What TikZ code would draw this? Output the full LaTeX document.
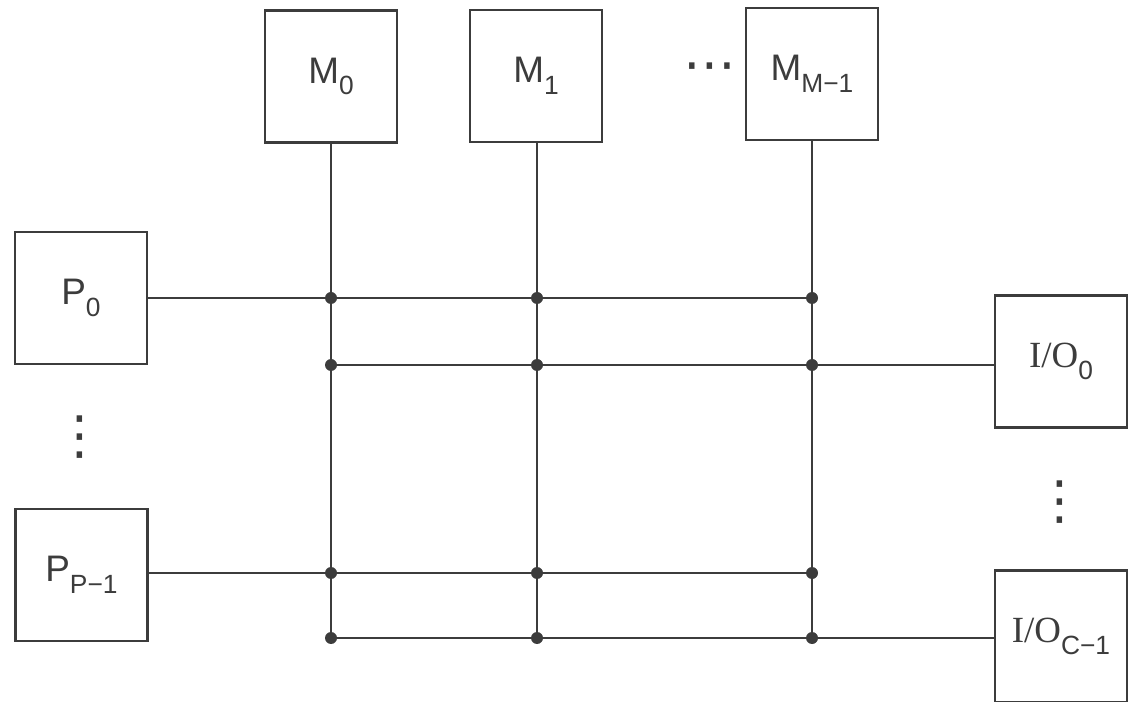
\documentclass[tikz,border=0pt]{standalone}
\usepackage{fontspec}
\setmainfont{Liberation Sans}
\newfontfamily\iofont{Liberation Serif}
\newfontfamily\dotfont{DejaVu Sans}
\usetikzlibrary{positioning}
\definecolor{ink}{RGB}{60,60,60}
\newcommand{\lowidx}[1]{\raisebox{-0.6ex}{\fontsize{15}{17}\selectfont #1}}
\tikzset{
  unit/.style={rectangle, draw=ink, line width=1.5pt, fill=white,
               minimum width=2.64cm, minimum height=2.64cm, align=center,
               font=\fontsize{21}{24}\selectfont, text=ink},
  bus/.style={draw=ink, line width=1.1pt},
  tap/.style={circle, fill=ink, inner sep=0pt, minimum size=0.24cm},
  gap/.style={font=\dotfont\fontsize{30}{32}\selectfont, text=ink, inner sep=0pt},
}
\begin{document}
\begin{tikzpicture}
\clip (0,0) rectangle (22.6,-14.04);

% Speicher oben
\node[unit] (m0) at (6.62,-1.53) {M\lowidx{0}};
\node[unit] (m1) at (10.72,-1.52) {M\lowidx{1}};
\node[unit] (mm) at (16.24,-1.48) {M\lowidx{M−1}};
\node[gap] (mdots) at (14.2,-1.45) {⋯};

% Prozessoren links, E/A rechts
\node[unit] (p0) at (1.62,-5.96) {P\lowidx{0}};
\node[unit] (pp) at (1.63,-11.5) {P\lowidx{P−1}};
\node[gap] (pdots) at (1.6,-8.75) {⋮};
\node[unit] (io0) at (21.22,-7.23) {{\iofont I/O}\lowidx{0}};
\node[unit] (ioc) at (21.22,-12.73) {{\iofont I/O}\lowidx{C−1}};
\node[gap] (iodots) at (21.2,-10.05) {⋮};

% Koppelpunkte
\node[tap] (a0) at (6.62,-5.96) {};
\node[tap] (a1) at (10.74,-5.96) {};
\node[tap] (a2) at (16.24,-5.96) {};
\node[tap] (b0) at (6.62,-7.30) {};
\node[tap] (b1) at (10.74,-7.30) {};
\node[tap] (b2) at (16.24,-7.30) {};
\node[tap] (c0) at (6.62,-11.46) {};
\node[tap] (c1) at (10.74,-11.46) {};
\node[tap] (c2) at (16.24,-11.46) {};
\node[tap] (d0) at (6.62,-12.76) {};
\node[tap] (d1) at (10.74,-12.76) {};
\node[tap] (d2) at (16.24,-12.76) {};

% Leitungen
\draw[bus] (m0.south) -- (d0.center);
\draw[bus] (m1.south -| d1) -- (d1.center);
\draw[bus] (mm.south) -- (d2.center);
\draw[bus] (p0.east) -- (a2.center);
\draw[bus] (b0.center) -- (io0.west |- b0);
\draw[bus] (pp.east |- c0) -- (c2.center);
\draw[bus] (d0.center) -- (ioc.west |- d0);
\end{tikzpicture}
\end{document}
